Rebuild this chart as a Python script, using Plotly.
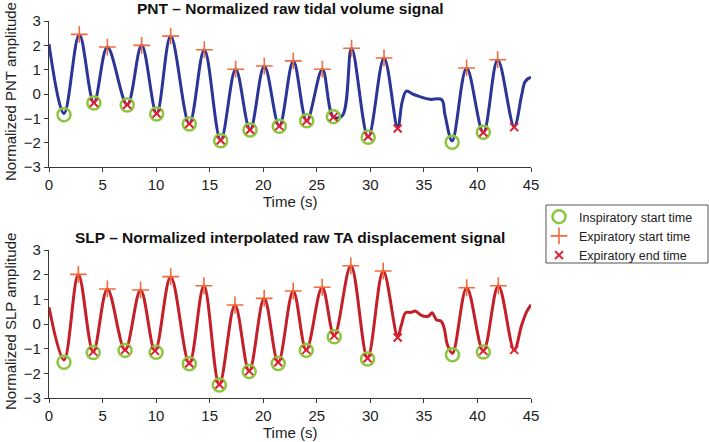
import plotly.graph_objects as go

# ---------------- data ----------------
# PNT signal (top panel)
pnt_t = [0, 1.40, 2.83, 4.19, 5.45, 7.30, 8.65, 10.05, 11.36, 13.10, 14.50, 16.03,
         17.43, 18.77, 20.10, 21.50, 22.81, 24.06, 25.52, 26.55, 27.40, 28.25, 29.80,
         31.28, 32.55, 32.97, 33.36, 34.00, 34.63, 35.57, 36.66, 36.97, 37.64, 38.99,
         40.55, 41.89, 43.43, 44.13, 44.44, 44.90, 45.0]
pnt_y = [2.05, -0.80, 2.45, -0.36, 1.93, -0.44, 2.00, -0.80, 2.38, -1.22, 1.82, -1.90,
         1.02, -1.47, 1.15, -1.32, 1.36, -1.10, 1.02, -0.95, -0.88, 1.88, -1.77,
         1.48, -1.40, -0.32, 0.12, -0.01, -0.11, -0.22, -0.23, -0.86, -1.93, 1.07,
         -1.58, 1.41, -1.34, -0.04, 0.50, 0.67, 0.66]

pnt_insp_t = [1.40, 4.19, 7.30, 10.05, 13.10, 16.03, 18.77, 21.50, 24.06, 26.55, 29.80, 37.64, 40.55]
pnt_insp_y = [-0.85, -0.37, -0.45, -0.82, -1.23, -1.92, -1.48, -1.33, -1.10, -0.93, -1.78, -1.98, -1.57]
pnt_exps_t = [2.83, 5.45, 8.65, 11.36, 14.50, 17.43, 20.10, 22.81, 25.52, 28.25, 31.28, 38.99, 41.89]
pnt_exps_y = [2.45, 1.93, 2.00, 2.38, 1.82, 1.02, 1.15, 1.36, 1.02, 1.88, 1.48, 1.07, 1.41]
pnt_expe_t = [4.19, 7.30, 10.05, 13.10, 16.03, 18.77, 21.50, 24.06, 26.55, 29.80, 32.55, 40.55, 43.43]
pnt_expe_y = [-0.36, -0.44, -0.80, -1.22, -1.90, -1.47, -1.32, -1.10, -0.95, -1.75, -1.42, -1.58, -1.36]

# SLP signal (bottom panel)
slp_t = [0, 1.40, 2.74, 4.13, 5.45, 7.10, 8.55, 9.90, 11.36, 13.10, 14.46, 15.90,
         17.36, 18.69, 20.09, 21.40, 22.80, 24.02, 25.50, 26.63, 28.18, 29.74, 31.20,
         32.55, 32.90, 33.30, 33.80, 34.20, 34.42, 34.73, 35.20, 35.50, 35.76, 36.20,
         36.60, 36.90, 37.20, 37.67, 39.00, 40.55, 41.95, 43.43, 44.13, 44.60, 45.0]
slp_y = [0.68, -1.46, 2.01, -1.12, 1.42, -1.05, 1.38, -1.08, 1.92, -1.59, 1.55, -2.45,
         0.77, -1.91, 1.04, -1.55, 1.34, -1.05, 1.49, -0.47, 2.36, -1.37, 2.15,
         -0.50, -0.04, 0.46, 0.47, 0.53, 0.46, 0.36, 0.30, 0.34, 0.46, 0.16,
         0.12, -0.18, -0.85, -1.19, 1.47, -1.09, 1.55, -1.05, -0.04, 0.50, 0.78]

slp_insp_t = [1.40, 4.13, 7.10, 10.00, 13.10, 15.90, 18.69, 21.40, 24.02, 26.63, 29.74, 37.67, 40.55]
slp_insp_y = [-1.55, -1.16, -1.07, -1.15, -1.61, -2.47, -1.93, -1.60, -1.07, -0.52, -1.42, -1.25, -1.14]
slp_exps_t = [2.74, 5.45, 8.55, 11.36, 14.46, 17.36, 20.09, 22.80, 25.50, 28.18, 31.20, 39.00, 41.95]
slp_exps_y = [2.01, 1.42, 1.38, 1.92, 1.55, 0.77, 1.04, 1.34, 1.49, 2.36, 2.15, 1.47, 1.55]
slp_expe_t = [4.13, 7.10, 9.90, 13.10, 15.90, 18.69, 21.40, 24.02, 26.63, 29.74, 32.55, 40.55, 43.43]
slp_expe_y = [-1.12, -1.05, -1.09, -1.59, -2.45, -1.91, -1.55, -1.05, -0.47, -1.39, -0.55, -1.09, -1.05]

x_ticks = [0, 5, 10, 15, 20, 25, 30, 35, 40, 45]
y_ticks = [-3, -2, -1, 0, 1, 2, 3]

titles = ["PNT \u2013 Normalized raw tidal volume signal",
          "SLP \u2013 Normalized interpolated raw TA displacement signal"]
y_titles = ["Normalized PNT amplitude", "Normalized SLP amplitude"]
legend_names = ["Inspiratory start time", "Expiratory start time", "Expiratory end time"]

# ---------------- styles ----------------
FONT = "Arial, Liberation Sans, sans-serif"
BLUE = "#2B3595"
RED = "#C4202A"
GREEN = "#8CC63F"
ORANGE = "#F26B3A"
XRED = "#E0202E"
AX = "#3a3a3a"

W, H = 709, 442
# pixel extents of plot areas
X0, X1 = 49, 531
TOP = (21, 167)
BOT = (250, 398)

def px(p):
    return p / W

def py(p):
    return 1 - p / H

fig = go.Figure()

panels = [
    (pnt_t, pnt_y, BLUE, pnt_insp_t, pnt_insp_y, pnt_exps_t, pnt_exps_y, pnt_expe_t, pnt_expe_y, "x", "y", True),
    (slp_t, slp_y, RED, slp_insp_t, slp_insp_y, slp_exps_t, slp_exps_y, slp_expe_t, slp_expe_y, "x2", "y2", False),
]

for (lt, ly, lc, it, iy, st, sy, et, ey, xa, ya, show) in panels:
    fig.add_trace(go.Scatter(x=lt, y=ly, mode="lines", xaxis=xa, yaxis=ya,
                             line=dict(color=lc, width=3, shape="spline", smoothing=1.0),
                             showlegend=False, hoverinfo="skip"))
    fig.add_trace(go.Scatter(x=it, y=iy, mode="markers", xaxis=xa, yaxis=ya,
                             name=legend_names[0], showlegend=show,
                             marker=dict(symbol="circle-open", size=13, color=GREEN,
                                         line=dict(color=GREEN, width=2.5))))
    fig.add_trace(go.Scatter(x=st, y=sy, mode="markers", xaxis=xa, yaxis=ya,
                             name=legend_names[1], showlegend=show,
                             marker=dict(symbol="cross-thin", size=12, color=ORANGE,
                                         line=dict(color=ORANGE, width=1.6))))
    fig.add_trace(go.Scatter(x=et, y=ey, mode="markers", xaxis=xa, yaxis=ya,
                             name=legend_names[2], showlegend=show,
                             marker=dict(symbol="x-thin", size=8, color=XRED,
                                         line=dict(color=XRED, width=2))))

xdom = [px(X0), px(X1)]
axis_common = dict(showgrid=False, zeroline=False, showline=True, linecolor=AX, linewidth=1.2,
                   ticks="outside", ticklen=4, tickcolor=AX, tickwidth=1.2,
                   tickfont=dict(family=FONT, size=15, color="#222"), automargin=False)

fig.update_layout(
    width=W, height=H,
    margin=dict(l=0, r=0, t=0, b=0),
    paper_bgcolor="white", plot_bgcolor="white",
    xaxis=dict(domain=xdom, range=[0, 45], tickvals=x_ticks, anchor="y", **axis_common),
    yaxis=dict(domain=[py(TOP[1]), py(TOP[0])], range=[-3, 3], tickvals=y_ticks, anchor="x", **axis_common),
    xaxis2=dict(domain=xdom, range=[0, 45], tickvals=x_ticks, anchor="y2", **axis_common),
    yaxis2=dict(domain=[py(BOT[1]), py(BOT[0])], range=[-3, 3], tickvals=y_ticks, anchor="x2", **axis_common),
    legend=dict(x=px(539), y=py(202), xanchor="left", yanchor="top",
                borderwidth=0, bgcolor="rgba(0,0,0,0)",
                font=dict(family=FONT, size=12.5, color="#222"),
                tracegroupgap=0, itemwidth=30),
    showlegend=True,
    shapes=[dict(type="rect", xref="paper", yref="paper",
                 x0=px(546), x1=px(708), y0=py(263), y1=py(205),
                 line=dict(color="#555", width=1), fillcolor="white", layer="below")],
)

xc = (X0 + X1) / 2 / W
ann = []
# titles
ann.append(dict(text="<b>" + titles[0] + "</b>", x=xc, y=py(8), xref="paper", yref="paper",
                showarrow=False, font=dict(family=FONT, size=15.5, color="#111"), yanchor="middle"))
ann.append(dict(text="<b>" + titles[1] + "</b>", x=xc, y=py(237), xref="paper", yref="paper",
                showarrow=False, font=dict(family=FONT, size=15.5, color="#111"), yanchor="middle"))
# x titles
ann.append(dict(text="Time (s)", x=xc, y=py(202), xref="paper", yref="paper",
                showarrow=False, font=dict(family=FONT, size=15, color="#222"), yanchor="middle"))
ann.append(dict(text="Time (s)", x=xc, y=py(432), xref="paper", yref="paper",
                showarrow=False, font=dict(family=FONT, size=15, color="#222"), yanchor="middle"))
# y titles
ann.append(dict(text=y_titles[0], x=px(10), y=py(92), xref="paper", yref="paper", textangle=-90,
                showarrow=False, font=dict(family=FONT, size=15, color="#222"),
                xanchor="center", yanchor="middle"))
ann.append(dict(text=y_titles[1], x=px(10), y=py(322), xref="paper", yref="paper", textangle=-90,
                showarrow=False, font=dict(family=FONT, size=15, color="#222"),
                xanchor="center", yanchor="middle"))
fig.update_layout(annotations=ann)

fig.write_html("out.html", config={"displayModeBar": False},
               post_script="document.body.style.margin='0';document.body.style.padding='0';")
